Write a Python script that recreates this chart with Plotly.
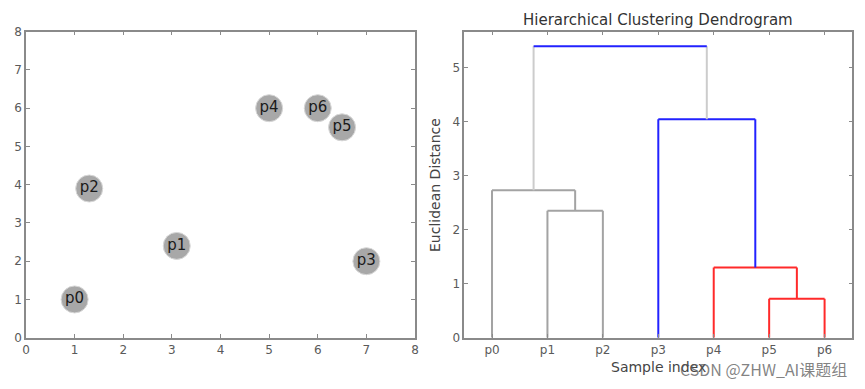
import plotly.graph_objects as go

# ---- data ----
point_labels = ["p0", "p1", "p2", "p3", "p4", "p5", "p6"]
point_x = [1.0, 3.1, 1.3, 7.0, 5.0, 6.5, 6.0]
point_y = [1.0, 2.4, 3.9, 2.0, 6.0, 5.5, 6.0]

leaf_order = ["p0", "p1", "p2", "p3", "p4", "p5", "p6"]
# linkage: (child_a, child_b, height) ; ids >= 7 refer to earlier merges
link_a = [5, 4, 1, 0, 3, 10]
link_b = [6, 7, 2, 9, 8, 11]
link_h = [0.72, 1.30, 2.35, 2.73, 4.05, 5.40]
link_color = ["#ff2a2a", "#ff2a2a", "#a3a3a3", "#a3a3a3", "#2222ff", "#2222ff"]
leg_color = ["#ff2a2a", "#ff2a2a", "#a3a3a3", "#a3a3a3", "#2222ff", "#cccccc"]

# ---- layout geometry (page body has an 8px margin) ----
OFF = 8
W, H = 865 - 2 * OFF, 389 - 2 * OFF
def fx(p): return (p - OFF) / W
def fy(p): return 1 - (p - OFF) / H

fig = go.Figure()

# scatter
fig.add_trace(go.Scatter(
    x=point_x, y=point_y, mode="markers+text", text=point_labels,
    textposition="middle center",
    textfont=dict(family="DejaVu Sans", size=15, color="#1a1a1a"),
    marker=dict(size=27, color="#a8a8a8", line=dict(color="#d8d8d8", width=1)),
    xaxis="x", yaxis="y", showlegend=False, hoverinfo="skip"))

# dendrogram
n = len(leaf_order)
pos = {i: float(i) for i in range(n)}
hgt = {i: 0.0 for i in range(n)}
for k, (a, b, h) in enumerate(zip(link_a, link_b, link_h)):
    xa, xb = pos[a], pos[b]
    ha, hb = hgt[a], hgt[b]
    fig.add_trace(go.Scatter(x=[xa, xa, None, xb, xb], y=[ha, h, None, hb, h],
                             mode="lines", line=dict(color=leg_color[k], width=2),
                             xaxis="x2", yaxis="y2", showlegend=False, hoverinfo="skip"))
    fig.add_trace(go.Scatter(x=[xa, xb], y=[h, h], mode="lines",
                             line=dict(color=link_color[k], width=2),
                             xaxis="x2", yaxis="y2", showlegend=False, hoverinfo="skip"))
    nid = n + k
    pos[nid] = (xa + xb) / 2
    hgt[nid] = h

axis_common = dict(showgrid=False, zeroline=False, showline=True, linecolor="#8a8a8a",
                   linewidth=1.5, mirror="allticks", ticks="inside", ticklen=4,
                   tickcolor="#8a8a8a", automargin=False,
                   tickfont=dict(family="DejaVu Sans", size=12, color="#5a5a5a"))

fig.update_layout(
    width=W, height=H, margin=dict(l=0, r=0, t=0, b=0, autoexpand=False),
    plot_bgcolor="white", paper_bgcolor="white",
    xaxis=dict(domain=[fx(26), fx(415)], range=[0, 8], dtick=1, anchor="y", **axis_common),
    yaxis=dict(domain=[fy(337.7), fy(31.7)], range=[0, 8], dtick=1, anchor="x", **axis_common),
    xaxis2=dict(domain=[fx(464.3), fx(852.3)], range=[-0.5, 6.5],
                tickvals=list(range(n)), ticktext=leaf_order, anchor="y2", **axis_common),
    yaxis2=dict(domain=[fy(337.7), fy(31.7)], range=[0, 5.67], dtick=1, anchor="x2", **axis_common),
)

ann = dict(xref="paper", yref="paper", showarrow=False, xanchor="center", yanchor="middle")
fig.add_annotation(text="Hierarchical Clustering Dendrogram", x=fx(658), y=fy(20),
                   font=dict(family="DejaVu Sans", size=15, color="#333333"), **ann)
fig.add_annotation(text="Euclidean Distance", x=fx(435), y=fy(185), textangle=-90,
                   font=dict(family="DejaVu Sans", size=14, color="#444444"), **ann)
fig.add_annotation(text="Sample index", x=fx(658), y=fy(367),
                   font=dict(family="DejaVu Sans", size=14, color="#444444"), **ann)
ann_r = dict(ann, xanchor="right")
fig.add_annotation(text="CSDN @ZHW_AI课题组", x=fx(849), y=fy(369),
                   font=dict(family="Noto Sans CJK SC", size=16, color="rgba(90,90,90,0.75)"), **ann_r)

fig.write_html("out.html")
